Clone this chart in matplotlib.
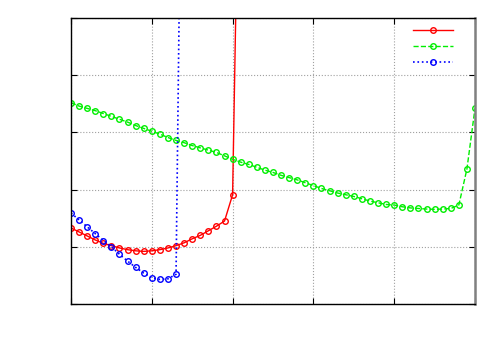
import matplotlib
matplotlib.use("Agg")
import matplotlib.pyplot as plt

x_red = list(range(0, 22))
y_red = [1.33, 1.26, 1.19, 1.12, 1.06, 1.02, 0.98, 0.95, 0.93, 0.92,
         0.93, 0.95, 0.98, 1.02, 1.07, 1.14, 1.20, 1.28, 1.36, 1.45,
         1.91, 10.0]

x_green = list(range(0, 51))
y_green = [3.52, 3.46, 3.42, 3.38, 3.33, 3.28, 3.23, 3.18, 3.12, 3.07,
           3.02, 2.97, 2.91, 2.86, 2.82, 2.77, 2.73, 2.69, 2.65, 2.59,
           2.53, 2.48, 2.44, 2.39, 2.34, 2.30, 2.25, 2.21, 2.17, 2.12,
           2.07, 2.02, 1.98, 1.94, 1.91, 1.88, 1.84, 1.80, 1.77, 1.74,
           1.73, 1.70, 1.68, 1.67, 1.66, 1.655, 1.66, 1.67, 1.73, 2.36,
           3.42]

x_blue = list(range(0, 15))
y_blue = [1.59, 1.47, 1.35, 1.23, 1.11, 1.00, 0.87, 0.75, 0.64, 0.54,
          0.46, 0.43, 0.44, 0.52, 12.5]

xticks = [0, 10, 20, 30, 40, 50]
yticks = [0, 1, 2, 3, 4, 5]

fig = plt.figure(figsize=(5, 3.5), dpi=100)
ax = fig.add_axes([0.142, 0.1314, 0.808, 0.8172])

mk = dict(marker='o', markersize=4.0, markerfacecolor='none', markeredgewidth=1.0)
ax.plot(x_red, y_red, color='#ff0000', linestyle='-', linewidth=1.0, label=' ', **mk)
ax.plot(x_green, y_green, color='#00ee00', linestyle='--', linewidth=1.0, label=' ', **mk)
ax.plot(x_blue, y_blue, color='#0000ff', linestyle=':', linewidth=1.2, label=' ', **mk)

ax.set_xlim(0, 50)
ax.set_ylim(0, 5)
ax.set_xticks(xticks)
ax.set_yticks(yticks)
ax.set_xticklabels([])
ax.set_yticklabels([])
ax.tick_params(direction='in', length=4, top=True, right=True, width=0.8)
ax.grid(True, color='#a0a0a0', linestyle=':', linewidth=0.8)

for s in ['left', 'bottom', 'top']:
    ax.spines[s].set_color('black')
    ax.spines[s].set_linewidth(1.0)
ax.spines['right'].set_color('#808080')
ax.spines['right'].set_linewidth(1.8)

leg = ax.legend(loc='upper right', frameon=False, handlelength=3.2,
                numpoints=1, borderaxespad=0.1, handletextpad=0.95,
                labelspacing=0.25, fontsize=9)

fig.savefig('out.png', dpi=100)
